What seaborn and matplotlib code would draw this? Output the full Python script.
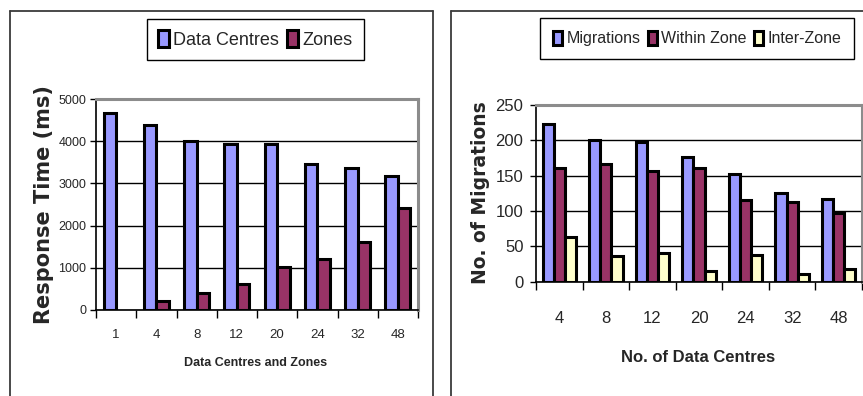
import numpy as np
import pandas as pd
import matplotlib
matplotlib.use("Agg")
import matplotlib.pyplot as plt
from matplotlib.lines import Line2D
import seaborn as sns

# ---- data ----
rt_categories = ["1", "4", "8", "12", "20", "24", "32", "48"]
rt_data_centres = [4680, 4380, 4010, 3930, 3930, 3460, 3370, 3170]
rt_zones = [np.nan, 210, 410, 610, 1020, 1210, 1600, 2420]
rt_series = ["Data Centres", "Zones"]

mig_categories = ["4", "8", "12", "20", "24", "32", "48"]
mig_total = [223, 201, 197, 177, 152, 125, 117]
mig_within = [161, 166, 156, 161, 115, 113, 97]
mig_inter = [63, 36, 41, 15, 38, 11, 18]
mig_series = ["Migrations", "Within Zone", "Inter-Zone"]

BLUE = "#9999FF"
MAROON = "#993366"
CREAM = "#FFFFCC"

sns.set_theme(style="white")
plt.rcParams["font.family"] = ["Liberation Sans", "DejaVu Sans"]

df_rt = pd.DataFrame({
    "cat": rt_categories * 2,
    "series": [rt_series[0]] * len(rt_categories) + [rt_series[1]] * len(rt_categories),
    "value": rt_data_centres + rt_zones,
})
df_mig = pd.DataFrame({
    "cat": mig_categories * 3,
    "series": sum([[s] * len(mig_categories) for s in mig_series], []),
    "value": mig_total + mig_within + mig_inter,
})

W, H = 863, 396
fig = plt.figure(figsize=(W / 100, H / 100), dpi=100)
fig.patch.set_facecolor("white")


def px_rect(x0, y0, x1, y1):
    return [x0 / W, 1 - y1 / H, (x1 - x0) / W, (y1 - y0) / H]


def style_axes(ax, n):
    ax.set_facecolor("white")
    ax.set_xlim(-0.5, n - 0.5)
    ax.grid(False)
    ax.yaxis.grid(True, color="black", linewidth=1.0)
    ax.set_axisbelow(True)
    for side in ("top", "right"):
        ax.spines[side].set_color("#8c8c8c")
        ax.spines[side].set_linewidth(2.2)
    for side in ("left", "bottom"):
        ax.spines[side].set_color("black")
        ax.spines[side].set_linewidth(1.2)
    ax.set_xticks(np.arange(-0.5, n), minor=True)
    ax.tick_params(axis="x", which="major", length=0)
    ax.tick_params(axis="x", which="minor", length=6, width=1, color="black",
                   direction="out", bottom=True)
    ax.tick_params(axis="y", which="major", length=4, width=1, color="black",
                   direction="out", left=True)


def legend_box(ax, handles, labels, cx, cy, size, ncol, pad):
    leg = ax.legend(handles, labels, loc="center", bbox_to_anchor=(cx, cy),
                    bbox_transform=fig.transFigure, ncol=ncol, frameon=True,
                    fancybox=False, edgecolor="black", framealpha=1,
                    fontsize=size, handlelength=0.6, handleheight=1.0,
                    handletextpad=0.25, columnspacing=0.45, borderpad=pad,
                    borderaxespad=0)
    leg.get_frame().set_linewidth(1.0)
    for h in leg.legend_handles:
        h.set_edgecolor("black")
        h.set_linewidth(2.2)
    return leg


# ---- left chart: response time ----
ax1 = fig.add_axes(px_rect(96, 99, 418, 310))
sns.barplot(data=df_rt, x="cat", y="value", hue="series", order=rt_categories,
            hue_order=rt_series, palette=[BLUE, MAROON], edgecolor="black",
            linewidth=2.2, width=0.62, ax=ax1, legend=True, saturation=1)
style_axes(ax1, len(rt_categories))
ax1.set_ylim(0, 5000)
ax1.set_yticks(np.arange(0, 5001, 1000))
ax1.tick_params(axis="y", labelsize=9, pad=3)
ax1.tick_params(axis="x", which="major", labelsize=9.5, pad=14)
ax1.set_ylabel("Response Time (ms)", family="DejaVu Sans", fontweight="bold",
               fontsize=15)
ax1.yaxis.label.set_va("center")
ax1.yaxis.set_label_coords((43.5 - 96) / 322, (310 - 205) / 211)
ax1.set_xlabel("Data Centres and Zones", fontsize=9, fontweight="bold")
ax1.xaxis.label.set_va("center")
ax1.xaxis.set_label_coords((256 - 96) / 322, (310 - 362.5) / 211)
h1, l1 = ax1.get_legend_handles_labels()
legend_box(ax1, h1, l1, 255.5 / W, 1 - 39.5 / H, 13, 2, 0.62)

# ---- right chart: migrations ----
ax2 = fig.add_axes(px_rect(536, 105, 862, 281.7))
sns.barplot(data=df_mig, x="cat", y="value", hue="series", order=mig_categories,
            hue_order=mig_series, palette=[BLUE, MAROON, CREAM],
            edgecolor="black", linewidth=2.2, width=0.72, ax=ax2, legend=True,
            saturation=1)
style_axes(ax2, len(mig_categories))
ax2.set_ylim(0, 250)
ax2.set_yticks(np.arange(0, 251, 50))
ax2.tick_params(axis="y", labelsize=12, pad=5)
ax2.tick_params(axis="x", which="major", labelsize=12, pad=21)
ax2.set_ylabel("No. of Migrations", family="DejaVu Sans", fontweight="bold",
               fontsize=13.5)
ax2.yaxis.label.set_va("center")
ax2.yaxis.set_label_coords((481 - 536) / 326, (281.7 - 192.5) / 176.7)
ax2.set_xlabel("No. of Data Centres", fontsize=12, fontweight="bold")
ax2.xaxis.label.set_va("center")
ax2.xaxis.set_label_coords((698 - 536) / 326, (281.7 - 357) / 176.7)
h2, l2 = ax2.get_legend_handles_labels()
legend_box(ax2, h2, l2, 697 / W, 1 - 38.5 / H, 11.5, 3, 0.8)

# ---- chart-area frames ----
frame_kw = dict(color="#3a3a3a", linewidth=1.3, transform=fig.transFigure)
for (xa, ya), (xb, yb) in [((10, 11), (433, 11)), ((10, 11), (10, 396)),
                           ((433, 11), (433, 396)), ((451, 11), (863, 11)),
                           ((451, 11), (451, 396))]:
    fig.add_artist(Line2D([xa / W, xb / W], [1 - ya / H, 1 - yb / H], **frame_kw))

fig.savefig("out.png", dpi=100, facecolor="white")
